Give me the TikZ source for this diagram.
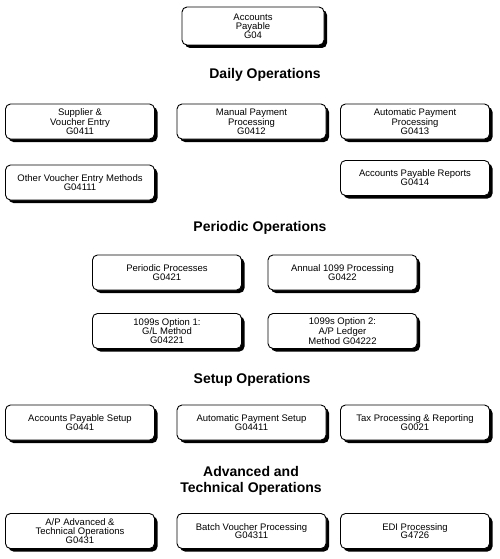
\documentclass[tikz,border=0pt]{standalone}
\usepackage{fontspec}
\setmainfont{Liberation Sans}
\usetikzlibrary{shadows}
\tikzset{
  menubox/.style={draw, line width=0.9pt, fill=white, rounded corners=5pt,
    minimum width=149pt, minimum height=35pt, inner sep=1pt, align=center,
    font=\fontsize{9.5}{8.8}\selectfont,
    general shadow={fill=black, shadow xshift=3pt, shadow yshift=-3pt}},
  sectitle/.style={align=center, font=\fontsize{14}{16}\selectfont\bfseries}
}
\begin{document}
\begin{tikzpicture}[x=1pt,y=1pt]
\useasboundingbox (0,0) rectangle (500,-559);
% top menu
\node [menubox, minimum width=142pt, minimum height=38pt] (ap) at (253,-26) {Accounts\\Payable\\G04};
%
\node [sectitle] (daily) at (265,-75) {Daily Operations};
\node [menubox] (supplier) at (80,-121.5) {Supplier \&\\Voucher Entry\\G0411};
\node [menubox] (manual) at (251.5,-121.5) {Manual Payment\\Processing\\G0412};
\node [menubox] (autopay) at (415,-121.5) {Automatic Payment\\Processing\\G0413};
\node [menubox] (othervoucher) at (80,-182.5) {Other Voucher Entry Methods\\G04111};
\node [menubox] (apreports) at (415,-178) {Accounts Payable Reports\\G0414};
%
\node [sectitle] (periodic) at (260,-228) {Periodic Operations};
\node [menubox] (perproc) at (167,-272.5) {Periodic Processes\\G0421};
\node [menubox] (annual) at (342.5,-272.5) {Annual 1099 Processing\\G0422};
\node [menubox] (option1) at (167,-331) {1099s Option 1:\\G/L Method\\G04221};
\node [menubox] (option2) at (342.5,-331) {1099s Option 2:\\A/P Ledger\\Method G04222};
%
\node [sectitle] (setup) at (252,-380) {Setup Operations};
\node [menubox] (apsetup) at (80,-422.5) {Accounts Payable Setup\\G0441};
\node [menubox] (autosetup) at (251.5,-422.5) {Automatic Payment Setup\\G04411};
\node [menubox] (tax) at (415,-422.5) {Tax Processing \& Reporting\\G0021};
%
\node [sectitle] (advanced) at (251,-481) {Advanced and\\Technical Operations};
\node [menubox] (apadv) at (80,-531) {A/P Advanced \&\\Technical Operations\\G0431};
\node [menubox] (batch) at (251.5,-531) {Batch Voucher Processing\\G04311};
\node [menubox] (edi) at (415,-531) {EDI Processing\\G4726};
\end{tikzpicture}
\end{document}
